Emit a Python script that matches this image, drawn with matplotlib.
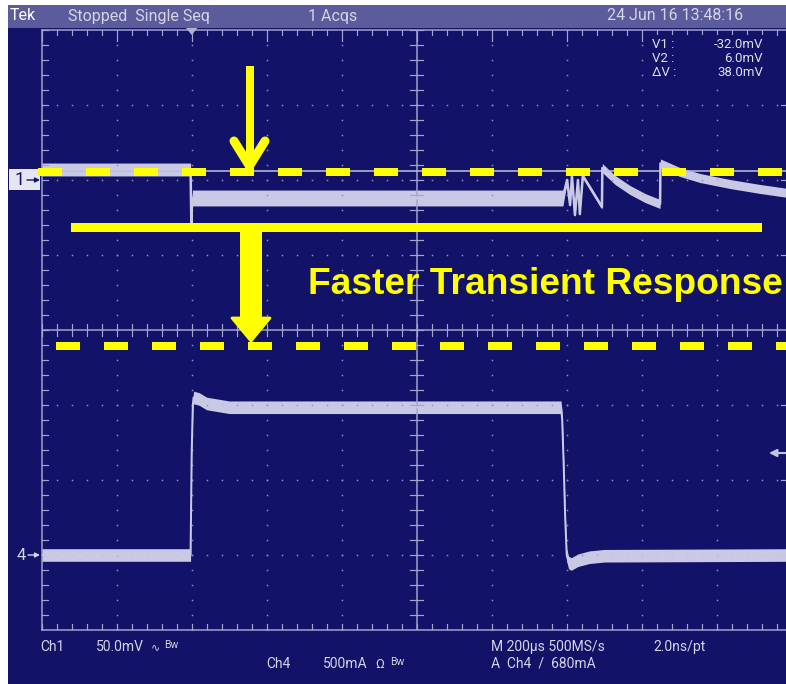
# Tek scope screenshot: load step with Ch1 output ripple and Ch4 load current
import numpy as np
import matplotlib
matplotlib.use("Agg")
import matplotlib.pyplot as plt
from matplotlib.patches import Rectangle, Polygon

# ---- waveforms (time in us from trigger) ----
ch1_t = [-400, -3, -1, 0, 2, 990, 1001, 1009, 1014, 1022, 1030, 1035, 1043,
         1094, 1095, 1129, 1169, 1209, 1249, 1250, 1302, 1356, 1436, 1516, 1600]
ch1_mv = [7, 7, -29, -20, -12, -12, 0, -16.7, 2.7, -23.3, 0, -22.7, 2.7,
          -18, 8, 0, -6.7, -12, -16, 11, 5.3, 1.3, -2.7, -6, -9]

ch4_t = [-400, -3, 0, 3, 5, 20, 40, 100, 985, 988, 992, 996, 1000, 1005,
         1012, 1030, 1060, 1100, 1600]
ch4_ma = [0, 0, 680, 1000, 1050, 1040, 1010, 985, 985, 900, 600, 250, 0,
          -50, -60, -35, -15, -5, 0]

# ---- scope settings ----
ch1_scale = 50.0      # mV/div
ch4_scale = 500.0     # mA/div
time_scale = 200.0    # us/div
ch1_pos = 2.0         # div
ch4_pos = -3.0        # div
trig_pos = -3.0       # div from centre
trig_level = 680.0    # mA
cursor_v1 = -32.0
cursor_v2 = 6.0

top_texts = ["Tek", "Stopped  Single Seq", "1 Acqs", "24 Jun 16 13:48:16"]
readout_names = ["V1 :", "V2 :", "\u0394V :"]
readout_vals = ["-32.0mV", "6.0mV", "38.0mV"]
banner = "Faster Transient Response"

NAVY = "#121268"
BAR = "#5c5c9c"
TRACE = "#c9c9e6"
GRID = "#a4a4d0"
DOT = "#8c8cc0"
YEL = "#ffff00"
TXT = "#d4d4e6"
SCOPEFONT = ["Roboto", "DejaVu Sans"]
PX = 0.72  # points per pixel at dpi 100

fig = plt.figure(figsize=(7.86, 6.84), dpi=100)
fig.patch.set_facecolor("white")

# background (pixel coords)
bg = fig.add_axes([0, 0, 1, 1], zorder=0)
bg.set_xlim(0, 786)
bg.set_ylim(684, 0)
bg.axis("off")
bg.add_patch(Rectangle((8, 5), 778, 679, color=NAVY, lw=0))
bg.add_patch(Rectangle((8, 5), 778, 22.5, color=BAR, lw=0))

# graticule axes in divisions
ax = fig.add_axes([41.7 / 786, 54 / 684, 750 / 786, 600 / 684], zorder=1)
ax.set_xlim(-5, 5)
ax.set_ylim(-4, 4)
ax.axis("off")
ax.patch.set_alpha(0)

steps = np.round(np.arange(-5, 5.001, 0.2), 3)
vsteps = np.round(np.arange(-4, 4.001, 0.2), 3)
# dotted division lines
for gx in range(-4, 5):
    if gx == 0:
        continue
    ax.plot(np.full(len(vsteps), gx), vsteps, ls="none", marker="s", ms=1.1,
            color=DOT, mew=0)
for gy in range(-3, 4):
    if gy == 0:
        continue
    ax.plot(steps, np.full(len(steps), gy), ls="none", marker="s", ms=1.1,
            color=DOT, mew=0)
    ax.plot([4.86, 5], [gy, gy], color=GRID, lw=1.2 * PX)

# centre cross with ticks
ax.axvline(0, color=GRID, lw=1.5 * PX)
ax.axhline(0, color=GRID, lw=1.5 * PX)
for s in steps:
    ax.plot([s, s], [-0.08, 0.08], color=GRID, lw=1.2 * PX)
for s in vsteps:
    ax.plot([-0.09, 0.09], [s, s], color=GRID, lw=1.2 * PX)

# frame: left, top, bottom
ax.plot([-5, -5], [-4, 4], color=GRID, lw=1.5 * PX, clip_on=False)
ax.plot([-5, 5], [-4, -4], color=GRID, lw=1.5 * PX, clip_on=False)
ax.plot([-5, 5], [4, 4], color=GRID, lw=1.5 * PX, clip_on=False)
for s in vsteps:
    ax.plot([-5, -4.92], [s, s], color=GRID, lw=1.2 * PX)
for s in steps:
    ax.plot([s, s], [-4, -3.92], color=GRID, lw=1.2 * PX)
    major = abs(s - round(s)) < 1e-6
    ax.plot([s, s], [4, 3.86 if major else 3.93], color=GRID, lw=1.2 * PX)

# cursor line V2
ax.axhline(ch1_pos + cursor_v2 / ch1_scale, color="#b8b8dc", lw=1.6 * PX)


def to_x(t):
    return trig_pos + np.asarray(t, dtype=float) / time_scale


# Ch1 trace as a band
t1 = np.asarray(ch1_t, dtype=float)
y1 = ch1_pos + np.asarray(ch1_mv) / ch1_scale
hw1 = np.interp(t1, [-400, -3, -1, 2, 990, 1000, 1094, 1095, 1600],
                [4.3, 4.3, 1.0, 5.3, 5.3, 1.4, 1.4, 3.0, 3.0]) / ch1_scale
ax.fill_between(to_x(t1), y1 - hw1, y1 + hw1, color=TRACE, lw=0)
ax.plot(to_x(t1), y1, color=TRACE, lw=2.5 * PX)

# Ch4 trace
t4 = np.asarray(ch4_t, dtype=float)
y4 = ch4_pos + np.asarray(ch4_ma) / ch4_scale
hw4 = 42 / ch4_scale
ax.fill_between(to_x(t4), y4 - hw4, y4 + hw4, color=TRACE, lw=0)
ax.plot(to_x(t4), y4, color=TRACE, lw=2 * PX)

# overlay in pixel coords
ov = fig.add_axes([0, 0, 1, 1], zorder=2)
ov.set_xlim(0, 786)
ov.set_ylim(684, 0)
ov.axis("off")
ov.patch.set_alpha(0)

# top bar text
ov.text(10, 16, top_texts[0], color="white", fontsize=11.5, family=SCOPEFONT,
        va="center")
for xx, s in zip([68, 308, 607], top_texts[1:]):
    ov.text(xx, 16, s, color=TXT, fontsize=11.5, family=SCOPEFONT,
            va="center")

# trigger position marker
ov.add_patch(Polygon([(186, 28), (197.5, 28), (191.7, 35)], color="#b0b0d4",
                     lw=0))

# cursor readout
ov.add_patch(Rectangle((646, 35), 128, 44, color=NAVY, lw=0))
for k in range(3):
    yy = 44 + 14 * k
    ov.text(652, yy, readout_names[k], color="#dcdcec", fontsize=9.5,
            family=SCOPEFONT, va="center")
    ov.text(763, yy, readout_vals[k], color="#dcdcec", fontsize=9.5,
            family=SCOPEFONT, va="center", ha="right")

# channel markers
ch1_y = 330 - ch1_pos * 75
ch4_y = 330 - ch4_pos * 75
ov.add_patch(Rectangle((9, ch1_y - 11), 31, 21, color="#e6e6f2", lw=0))
ov.text(14, ch1_y, "1", color=NAVY, fontsize=13, family=SCOPEFONT,
        va="center")
ov.annotate("", xy=(40, ch1_y), xytext=(27, ch1_y),
            arrowprops=dict(arrowstyle="-|>", color=NAVY, lw=1,
                            mutation_scale=7, shrinkA=0, shrinkB=0))
ov.text(17, ch4_y, "4", color=TXT, fontsize=12, family=SCOPEFONT,
        va="center")
ov.annotate("", xy=(40, ch4_y), xytext=(28, ch4_y),
            arrowprops=dict(arrowstyle="-|>", color=TXT, lw=1,
                            mutation_scale=7, shrinkA=0, shrinkB=0))

# trigger level marker on the right
trig_y = 330 - (ch4_pos + trig_level / ch4_scale) * 75
ov.annotate("", xy=(769, trig_y), xytext=(786, trig_y),
            arrowprops=dict(arrowstyle="-|>", color="#c4c4e0", lw=1.5,
                            mutation_scale=11, shrinkA=0, shrinkB=0))

# bottom status lines
row1 = [(40, "Ch1", 10), (96, "50.0mV", 10), (491, "M 200\u00b5s 500MS/s", 10),
        (653, "2.0ns/pt", 10)]
row2 = [(266, "Ch4", 10), (323, "500mA", 10), (491, "A  Ch4  /  680mA", 10)]
for xx, s, fs in row1:
    ov.text(xx, 647, s, color=TXT, fontsize=fs, family=SCOPEFONT, va="center")
for xx, s, fs in row2:
    ov.text(xx, 664, s, color=TXT, fontsize=fs, family=SCOPEFONT, va="center")
ov.text(151, 647, "\u223f", color=TXT, fontsize=8, family=SCOPEFONT,
        va="center")
ov.text(164, 645, "Bw", color=TXT, fontsize=7.5, family=SCOPEFONT,
        va="center")
ov.text(375, 664, "\u03a9", color=TXT, fontsize=9.5, family=SCOPEFONT,
        va="center")
ov.text(390, 662, "Bw", color=TXT, fontsize=7.5, family=SCOPEFONT,
        va="center")

# yellow annotations
ov.plot([38, 786], [172, 172], color=YEL, lw=8 * PX, ls=(0, (3, 3)),
        dash_capstyle="butt")
ov.add_patch(Rectangle((245.5, 66), 8, 96, color=YEL, lw=0))
ov.plot([234, 249.5], [141, 166], color=YEL, lw=9 * PX,
        solid_capstyle="round")
ov.plot([265, 249.5], [141, 166], color=YEL, lw=9 * PX,
        solid_capstyle="round")
ov.add_patch(Rectangle((71, 223), 691, 8.5, color=YEL, lw=0))
ov.add_patch(Rectangle((240, 228), 22, 92, color=YEL, lw=0))
ov.add_patch(Polygon([(232, 318), (270, 318), (251, 341)], color=YEL, lw=2,
                     joinstyle="round"))
ov.text(308, 294, banner, color=YEL, fontsize=26.7, fontweight="bold",
        family=["Liberation Sans", "DejaVu Sans"], va="baseline")
ov.plot([56, 786], [346, 346], color=YEL, lw=8 * PX, ls=(0, (3, 3)),
        dash_capstyle="butt")

fig.savefig("out.png", dpi=100)
